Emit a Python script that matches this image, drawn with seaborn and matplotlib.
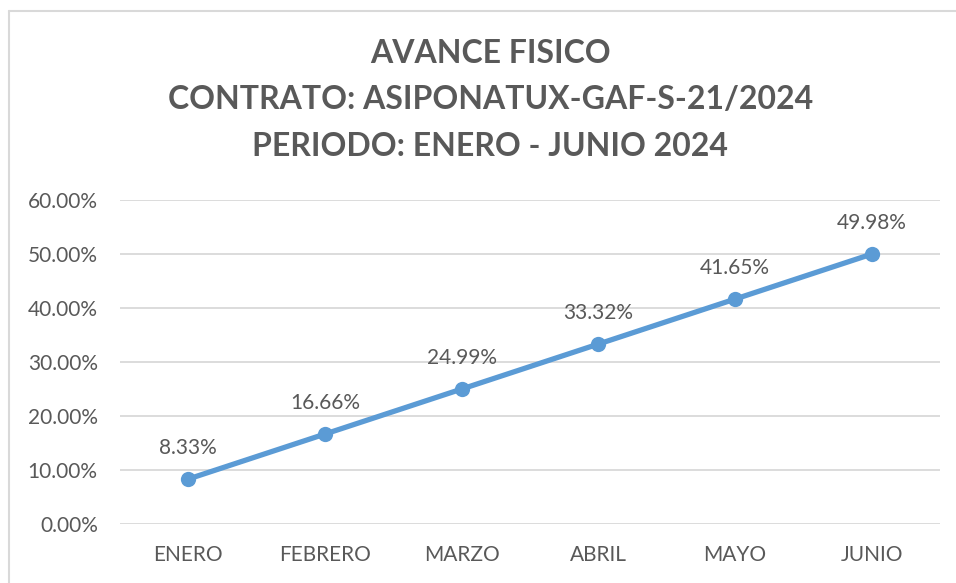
import matplotlib
matplotlib.use("Agg")
import matplotlib.pyplot as plt
import seaborn as sns
import pandas as pd
from matplotlib.lines import Line2D
from matplotlib.ticker import PercentFormatter

meses = ["ENERO", "FEBRERO", "MARZO", "ABRIL", "MAYO", "JUNIO"]
avance = [8.33, 16.66, 24.99, 33.32, 41.65, 49.98]
y_ticks = [0, 10, 20, 30, 40, 50, 60]
titulo = "AVANCE FISICO\nCONTRATO: ASIPONATUX-GAF-S-21/2024\nPERIODO: ENERO - JUNIO 2024"

sns.set_theme(style="white")
plt.rcParams["font.family"] = ["Lato", "DejaVu Sans"]

gris = "#595959"
azul = "#5B9BD5"
linea = "#D9D9D9"

df = pd.DataFrame({"mes": meses, "avance": avance})
df["pos"] = range(len(meses))

fig = plt.figure(figsize=(9.56, 5.83), dpi=100)
ax = fig.add_axes([0.1255, 0.1012, 0.8577, 0.5557])

sns.lineplot(data=df, x="pos", y="avance", ax=ax, color=azul, linewidth=3.8,
             marker="o", markersize=11, markeredgewidth=0, zorder=3)

for x, y in zip(df["pos"], df["avance"]):
    ax.annotate(f"{y:.2f}%", (x, y), xytext=(0, 22.5), textcoords="offset points",
                ha="center", va="center", fontsize=15, color=gris)

ax.set_xlim(-0.5, len(meses) - 0.5)
ax.set_ylim(0, 60)
ax.set_yticks(y_ticks)
ax.yaxis.set_major_formatter(PercentFormatter(decimals=2))
ax.set_xticks(df["pos"])
ax.set_xticklabels(meses)
ax.tick_params(axis="both", length=0, labelsize=15, labelcolor=gris)
ax.tick_params(axis="x", pad=15)
ax.tick_params(axis="y", pad=16)
ax.grid(axis="y", color=linea, linewidth=1.3)
ax.set_axisbelow(True)
for s in ["top", "right", "left", "bottom"]:
    ax.spines[s].set_visible(False)
ax.set_xlabel("")
ax.set_ylabel("")

fig.text(0.513, 0.8285, titulo, ha="center", va="center", fontsize=23,
         fontweight="bold", color=gris, linespacing=1.72)

# borde del grafico (solo izquierda y arriba visibles)
fig.add_artist(Line2D([0.0095, 0.0095], [0, 0.981], transform=fig.transFigure,
                      color=linea, linewidth=1.5))
fig.add_artist(Line2D([0.0095, 1.0], [0.981, 0.981], transform=fig.transFigure,
                      color=linea, linewidth=1.5))

fig.savefig("out.png", dpi=100)
